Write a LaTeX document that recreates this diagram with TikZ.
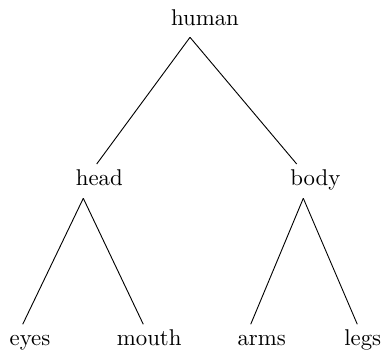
\documentclass[tikz,border=0pt]{standalone}
\usetikzlibrary{calc}
\begin{document}
\begin{tikzpicture}[x=0.4386pt,y=-0.4386pt,
  lbl/.style={inner sep=0pt,anchor=base,font=\normalsize},
  edge/.style={draw=black,line width=0.4pt}]
\useasboundingbox (0,0) rectangle (384,349);
\node[lbl] (human) at (205,25) {human};
\node[lbl] (head) at (99.3,185) {head};
\node[lbl] (body) at (315.3,185) {body};
\node[lbl] (eyes) at (30,345) {eyes};
\node[lbl] (mouth) at (149.2,345) {mouth};
\node[lbl] (arms) at (261.7,345) {arms};
\node[lbl] (legs) at (362.8,345) {legs};
\draw[edge] ($(human.base)+(-15,12.3)$) -- ($(head.base)+(-2.6,-21)$);
\draw[edge] ($(human.base)+(-15,12.3)$) -- ($(body.base)+(-18.6,-21)$);
\draw[edge] ($(head.base)+(-16,13.3)$) -- ($(eyes.base)+(-7.3,-20.7)$);
\draw[edge] ($(head.base)+(-16,13.3)$) -- ($(mouth.base)+(-5.9,-20.7)$);
\draw[edge] ($(body.base)+(-12,13.3)$) -- ($(arms.base)+(-11,-20.7)$);
\draw[edge] ($(body.base)+(-12,13.3)$) -- ($(legs.base)+(-5.5,-20.7)$);
\end{tikzpicture}
\end{document}
